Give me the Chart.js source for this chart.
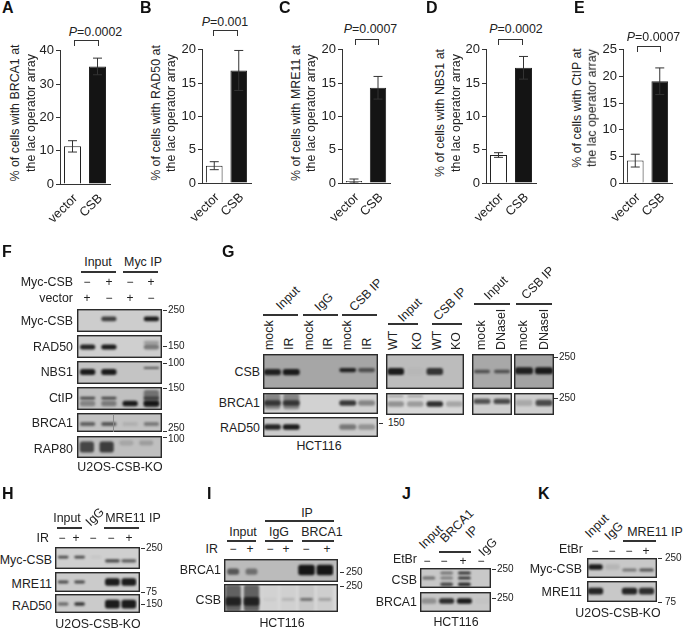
<!DOCTYPE html>
<html>
<head>
<meta charset="utf-8">
<title>CSB figure</title>
<script src="https://cdn.jsdelivr.net/npm/chart.js@4"></script>
<style>
    html, body { margin: 0; padding: 0; background: #fff; }
    #page { position: relative; width: 684px; height: 629px; overflow: hidden; font-family: "Liberation Sans", sans-serif; color: #222; }
    #page canvas { position: absolute; }
    .txt { position: absolute; white-space: pre; line-height: 1; }
    .rule { position: absolute; background: #333; }
    .bracket { position: absolute; border: 1px solid #333; border-bottom: none; box-sizing: border-box; }
</style>
</head>
<body>
<div id="page"></div>
<script>
/* -------------------- bar panel data -------------------- */
const barCategories = ['vector', 'CSB'];

const aValues = [11.3, 35.3];
const aErrors = [1.7, 2.5];
const aTicks = [0, 10, 20, 30, 40];

const bValues = [2.6, 16.9];
const bErrors = [0.6, 3.0];
const bTicks = [0, 5, 10, 15, 20];

const cValues = [0.3, 14.3];
const cErrors = [0.3, 1.7];
const cTicks = [0, 5, 10, 15, 20];

const dValues = [4.2, 17.3];
const dErrors = [0.35, 1.7];
const dTicks = [0, 5, 10, 15, 20];

const eValues = [4.2, 19.1];
const eErrors = [1.2, 2.5];
const eTicks = [0, 5, 10, 15, 20, 25];

/* -------------------- blot band strengths, one number per lane -------------------- */
const fMycCsb = [0, 0.75, 0, 0.95];
const fRad50 = [0.9, 0.95, 0, 0.45];
const fRad50Upper = [0, 0, 0, 0.25];
const fNbs1 = [0.95, 0.95, 0, 0];
const fNbs1Upper = [0, 0, 0, 0.7];
const fCtipUpper = [0.7, 0.7, 0, 0.6];
const fCtipLower = [0.35, 0.4, 0.95, 0.95];
const fCtipSmear = [0, 0, 0, 0.45];
const fBrca1 = [0.55, 0.6, 0.1, 0.4];
const fRap80 = [0.7, 0.75, 0, 0];
const fRap80Faint = [0, 0, 0.15, 0.2];

const gCsb = [0.9, 0.95, 0, 0, 0, 0];
const gCsbIp = [0, 0, 0, 0, 0.9, 0.6];
const gBrca1Smear = [0.4, 0.4, 0, 0, 0, 0];
const gBrca1 = [0.7, 0.7, 0, 0, 0.8, 0.4];
const gRad50 = [0.9, 0.95, 0, 0, 0.45, 0.3];
const gKoCsb = [0.95, 0.03, 0.8, 0];
const gKoBrca1 = [0.35, 0.3, 0.85, 0.25];
const gKoBrca1Upper = [0.25, 0.25, 0, 0];
const gDnInputCsb = [0.6, 0.6];
const gDnInputBrca1 = [0.65, 0.7];
const gDnIpCsb = [0.9, 0.95];
const gDnIpBrca1 = [0.2, 0.7];

const hMycCsbInput = [0.7, 0.7, 0.05, 0, 0];
const hMycCsbIp = [0, 0, 0, 0.7, 0.6];
const hMre11Input = [0.7, 0.7, 0, 0, 0];
const hMre11Ip = [0, 0, 0, 0.95, 0.95];
const hRad50Input = [0.5, 0.8, 0, 0, 0];
const hRad50Ip = [0, 0, 0, 0.95, 0.95];

const iBrca1Input = [0.6, 0.45, 0, 0, 0, 0];
const iBrca1Ip = [0, 0, 0, 0, 0.98, 0.98];
const iCsbSmear = [0.6, 0.6, 0.03, 0.04, 0.08, 0.05];
const iCsbDark = [0.8, 0.8, 0, 0, 0, 0];
const iCsbFaint = [0, 0, 0.04, 0.15, 0.5, 0.25];

const jCsbTop = [0, 0.45, 0.8, 0];
const jCsbMid = [0.5, 0.4, 0.8, 0];
const jCsbLow = [0, 0.7, 0.85, 0];
const jBrca1 = [0.3, 0.85, 0.95, 0.02];

const kMycCsbInput = [0.95, 0.1, 0, 0];
const kMycCsbIp = [0, 0, 0.45, 0.65];
const kMre11 = [0.9, 0, 0.9, 0.85];

const fLanes = ['Input -', 'Input +', 'IP -', 'IP +'];
const gLanes = ['Input mock', 'Input IR', 'IgG mock', 'IgG IR', 'IP mock', 'IP IR'];
const gKoLanes = ['Input WT', 'Input KO', 'IP WT', 'IP KO'];
const gDnLanes = ['mock', 'DNaseI'];
const hLanes = ['Input -', 'Input +', 'IgG -', 'IP -', 'IP +'];
const iLanes = ['Input -', 'Input +', 'IgG -', 'IgG +', 'BRCA1 -', 'BRCA1 +'];
const jLanes = ['Input', 'IP -', 'IP +', 'IgG'];
const kLanes = ['Input', 'IgG', 'IP -', 'IP +'];

/* -------------------- helpers -------------------- */
const page = document.getElementById('page');
const INK = '#222';
const FONT = '"Liberation Sans", sans-serif';

function label(text, x, y, opts = {}) {
    const { size = 12.4, anchor = 'center', rot = 0, bold = false } = opts;
    const el = document.createElement('div');
    el.className = 'txt';
    el.textContent = text;
    el.style.left = x + 'px';
    el.style.top = y + 'px';
    el.style.fontSize = size + 'px';
    if (bold) { el.style.fontWeight = 'bold'; el.style.color = '#111'; }
    const shift = anchor === 'left' ? '0' : anchor === 'right' ? '-100%' : '-50%';
    el.style.transformOrigin = '0 0';
    el.style.transform = `rotate(${rot}deg) translate(${shift}, -50%)`;
    page.appendChild(el);
    return el;
}

function italicP(pvalue, x, y) {
    const el = label('', x, y);
    const p = document.createElement('i');
    p.textContent = 'P';
    el.appendChild(p);
    el.appendChild(document.createTextNode('=' + pvalue));
}

function rule(x1, x2, y, thick = 1.2) {
    const el = document.createElement('div');
    el.className = 'rule';
    el.style.left = x1 + 'px';
    el.style.top = (y - thick / 2) + 'px';
    el.style.width = (x2 - x1) + 'px';
    el.style.height = thick + 'px';
    page.appendChild(el);
    return el;
}

function bracket(x1, x2, y1, y2) {
    const el = document.createElement('div');
    el.className = 'bracket';
    el.style.left = x1 + 'px';
    el.style.top = y1 + 'px';
    el.style.width = (x2 - x1) + 'px';
    el.style.height = (y2 - y1) + 'px';
    page.appendChild(el);
}

function marker(text, x, tickX, y, tickY = y) {
    rule(tickX, tickX + 4, tickY, 1);
    label(text, x, y, { size: 10, anchor: 'left' });
}

function marks(symbols, xs, y) {
    symbols.forEach((s, i) => label(s, xs[i], y, { size: 12 }));
}

function newCanvas(left, top, width, height) {
    const canvas = document.createElement('canvas');
    canvas.width = width;
    canvas.height = height;
    canvas.style.left = left + 'px';
    canvas.style.top = top + 'px';
    canvas.style.width = width + 'px';
    canvas.style.height = height + 'px';
    page.appendChild(canvas);
    return canvas;
}

/* -------------------- bar panels (A-E) -------------------- */
const errorBarPlugin = {
    id: 'errorBars',
    afterDatasetsDraw(chart, args, opts) {
        const { ctx, scales } = chart;
        const bars = chart.getDatasetMeta(0).data;
        ctx.save();
        ctx.strokeStyle = '#333';
        ctx.lineWidth = 1;
        bars.forEach((bar, i) => {
            const v = chart.data.datasets[0].data[i];
            const top = scales.y.getPixelForValue(v + opts.values[i]);
            const low = scales.y.getPixelForValue(v - opts.values[i]);
            ctx.beginPath();
            ctx.moveTo(bar.x, top); ctx.lineTo(bar.x, low);
            ctx.moveTo(bar.x - 4.5, top); ctx.lineTo(bar.x + 4.5, top);
            ctx.moveTo(bar.x - 4.5, low); ctx.lineTo(bar.x + 4.5, low);
            ctx.stroke();
        });
        ctx.restore();
    }
};

function barPanel(axisX, axisTop, width, values, errors, ticks) {
    const gutter = 36, padTop = 8, plotH = 135, bottom = 42;
    const canvas = newCanvas(axisX - gutter, axisTop - padTop, gutter + width + 6, padTop + plotH + bottom);
    new Chart(canvas, {
        type: 'bar',
        data: {
            labels: barCategories,
            datasets: [{
                data: values,
                backgroundColor: ['#ffffff', '#141414'],
                borderColor: '#222',
                borderWidth: 1,
                barPercentage: 0.68,
                categoryPercentage: 1
            }]
        },
        options: {
            responsive: false,
            animation: false,
            layout: { padding: { top: padTop, right: 6, left: 0, bottom: 0 } },
            scales: {
                x: {
                    afterFit: s => { s.height = bottom; },
                    grid: { display: false },
                    border: { color: '#333', width: 1 },
                    ticks: { color: INK, font: { family: FONT, size: 12.8 }, minRotation: 45, maxRotation: 45, padding: -1, labelOffset: 3, autoSkip: false }
                },
                y: {
                    min: 0,
                    max: ticks[ticks.length - 1],
                    afterFit: s => { s.width = gutter; },
                    afterBuildTicks: s => { s.ticks = ticks.map(value => ({ value })); },
                    grid: { drawOnChartArea: false, color: '#333', tickLength: 4 },
                    border: { color: '#333', width: 1 },
                    ticks: { color: INK, font: { family: FONT, size: 13 }, padding: 2 }
                }
            },
            plugins: {
                legend: { display: false },
                tooltip: { enabled: false },
                errorBars: { values: errors }
            }
        },
        plugins: [errorBarPlugin]
    });
}

barPanel(60, 49, 50, aValues, aErrors, aTicks);
barPanel(202, 48, 49, bValues, bErrors, bTicks);
barPanel(342, 48, 48, cValues, cErrors, cTicks);
barPanel(486, 48, 50, dValues, dErrors, dTicks);
barPanel(623, 48, 49, eValues, eErrors, eTicks);

// y titles
[['BRCA1', 15, 31, 113], ['RAD50', 156, 171, 113], ['MRE11', 296, 311, 113], ['NBS1', 440, 456, 113], ['CtIP', 577, 592, 108]].forEach(t => {
    label(`% of cells with ${t[0]} at`, t[1], t[3], { rot: -90 });
    label('the lac operator array', t[2], t[3], { rot: -90 });
});

italicP('0.0002', 95.5, 32); bracket(74, 99, 40, 46);
italicP('0.001', 225, 22); bracket(213, 238, 30, 36);
italicP('0.0007', 370.5, 29); bracket(355, 379, 39, 45);
italicP('0.0002', 516, 29); bracket(498, 523, 39, 45);
italicP('0.0007', 653.5, 37); bracket(637, 661, 46, 52);

/* -------------------- blot strips -------------------- */
const bandPlugin = {
    id: 'bandStyle',
    beforeDraw(chart, args, opts) {
        const { ctx, width, height } = chart;
        ctx.save();
        ctx.fillStyle = opts.background;
        ctx.fillRect(0, 0, width, height);
        ctx.restore();
    },
    beforeDatasetsDraw(chart) {
        chart.ctx.save();
        chart.ctx.filter = 'blur(1.1px)';
    },
    afterDatasetsDraw(chart) {
        chart.ctx.restore();
    },
    afterDraw(chart) {
        const { ctx, width, height } = chart;
        ctx.save();
        ctx.strokeStyle = '#2a2a2a';
        ctx.lineWidth = 1.4;
        ctx.strokeRect(0.7, 0.7, width - 1.4, height - 1.4);
        ctx.restore();
    }
};

function strip(x, y, w, h, background, lanes, rows, padRight = 0) {
    const canvas = newCanvas(x, y, w, h);
    new Chart(canvas, {
        type: 'bar',
        data: {
            labels: lanes,
            datasets: rows.map(r => ({
                data: r.values.map(v => v > 0 ? [r.at - r.thick / 2, r.at + r.thick / 2] : null),
                backgroundColor: r.values.map(v => `rgba(18,18,18,${v})`),
                borderRadius: 2.5,
                borderSkipped: false,
                borderWidth: 0,
                grouped: false,
                barPercentage: r.span || 0.72,
                categoryPercentage: 1
            }))
        },
        options: {
            responsive: false,
            animation: false,
            layout: { padding: { right: padRight } },
            scales: {
                x: { display: false },
                y: { display: false, min: 0, max: 1, reverse: true }
            },
            plugins: {
                legend: { display: false },
                tooltip: { enabled: false },
                bandStyle: { background }
            }
        },
        plugins: [bandPlugin]
    });
}

/* -------------------- F -------------------- */
strip(77, 309, 85, 23, '#cdcdcd', fLanes, [{ at: 0.43, thick: 0.2, values: fMycCsb }]);
strip(77, 335, 85, 23, '#cfcfcf', fLanes, [{ at: 0.33, thick: 0.16, values: fRad50Upper }, { at: 0.52, thick: 0.22, values: fRad50 }]);
strip(77, 361, 85, 23, '#c4c4c4', fLanes, [{ at: 0.48, thick: 0.26, values: fNbs1 }, { at: 0.3, thick: 0.08, values: fNbs1Upper }]);
strip(77, 387, 85, 23, '#c0c0c0', fLanes, [{ at: 0.5, thick: 0.75, values: fCtipSmear }, { at: 0.48, thick: 0.12, values: fCtipUpper }, { at: 0.72, thick: 0.24, values: fCtipLower }]);
strip(77, 413, 85, 19, '#c2c2c2', fLanes, [{ at: 0.58, thick: 0.2, values: fBrca1 }]);
rule(112.6, 113.6, 422.5, 18).style.background = '#8a8a8a';
strip(77, 436, 85, 22, '#bfbfbf', fLanes, [{ at: 0.5, thick: 0.5, values: fRap80 }, { at: 0.32, thick: 0.22, values: fRap80Faint }], 6);

label('Input', 98, 262); rule(81, 116, 272);
label('Myc IP', 143, 262); rule(123, 158, 272);
label('Myc-CSB', 73, 282, { anchor: 'right' });
label('vector', 73, 298, { anchor: 'right' });
const fMarkX = [87, 109, 130, 151];
marks(['−', '+', '−', '+'], fMarkX, 282);
marks(['+', '−', '+', '−'], fMarkX, 298);
[['Myc-CSB', 321], ['RAD50', 347], ['NBS1', 372], ['CtIP', 398], ['BRCA1', 423], ['RAP80', 449]].forEach(r => label(r[0], 73, r[1], { anchor: 'right' }));
marker('250', 168, 163, 310);
marker('150', 168, 163, 346);
marker('100', 168, 163, 363);
marker('150', 168, 163, 388);
marker('250', 168, 163, 428, 431);
marker('100', 168, 163, 439, 437);
label('U2OS-CSB-KO', 120, 467);

/* -------------------- G -------------------- */
strip(263, 354, 115, 35, '#a6a6a6', gLanes, [{ at: 0.52, thick: 0.18, values: gCsb, span: 0.9 }, { at: 0.46, thick: 0.12, values: gCsbIp, span: 0.9 }], 2);
strip(263, 393, 115, 21, '#d2d2d2', gLanes, [{ at: 0.4, thick: 0.75, values: gBrca1Smear, span: 0.85 }, { at: 0.48, thick: 0.26, values: gBrca1, span: 0.9 }], 2);
strip(263, 417, 115, 20, '#cccccc', gLanes, [{ at: 0.5, thick: 0.28, values: gRad50, span: 0.9 }], 2);
strip(386, 354, 78, 35, '#bcbcbc', gKoLanes, [{ at: 0.5, thick: 0.2, values: gKoCsb, span: 0.85 }]);
strip(386, 393, 78, 22, '#d8d8d8', gKoLanes, [{ at: 0.15, thick: 0.12, values: gKoBrca1Upper, span: 0.8 }, { at: 0.5, thick: 0.24, values: gKoBrca1, span: 0.85 }]);
strip(472, 354, 40, 35, '#a8a8a8', gDnLanes, [{ at: 0.5, thick: 0.1, values: gDnInputCsb, span: 0.8 }]);
strip(472, 393, 40, 22, '#cfcfcf', gDnLanes, [{ at: 0.38, thick: 0.24, values: gDnInputBrca1, span: 0.85 }]);
strip(514, 354, 40, 35, '#a3a3a3', gDnLanes, [{ at: 0.48, thick: 0.2, values: gDnIpCsb, span: 0.9 }]);
strip(514, 393, 40, 22, '#cfcfcf', gDnLanes, [{ at: 0.45, thick: 0.28, values: gDnIpBrca1, span: 0.85 }]);

const tilt = { rot: -45 };
label('Input', 288, 298, tilt); label('IgG', 324, 302, tilt); label('CSB IP', 366, 295, tilt);
label('Input', 410, 310, tilt); label('CSB IP', 450, 304, tilt);
label('Input', 496, 288, tilt); label('CSB IP', 538, 283, tilt);
rule(263, 298, 315, 1.5); rule(303, 338, 315, 1.5); rule(342, 377, 315, 1.5);
rule(388, 418, 324); rule(432, 462, 324);
rule(474, 510, 304, 1.5); rule(516, 552, 304, 1.5);
[['mock', 269], ['IR', 289], ['mock', 309], ['IR', 328], ['mock', 347], ['IR', 367],
 ['WT', 393], ['KO', 417], ['WT', 437], ['KO', 456],
 ['mock', 481], ['DNaseI', 501], ['mock', 523], ['DNaseI', 544]].forEach(l => label(l[0], l[1], 350, { rot: -90, anchor: 'left' }));
[['CSB', 372], ['BRCA1', 403], ['RAD50', 428]].forEach(r => label(r[0], 260, r[1], { anchor: 'right' }));
marker('150', 388, 379, 423);
marker('250', 559, 554, 357);
marker('250', 559, 554, 398);
label('HCT116', 319, 446);

/* -------------------- H -------------------- */
const hStrip = (y, h, bg, rows) => strip(55, y, 85, h, bg, hLanes, rows, 3);
hStrip(547, 22, '#cfcfcf', [{ at: 0.46, thick: 0.12, values: hMycCsbInput, span: 0.65 }, { at: 0.63, thick: 0.14, values: hMycCsbIp, span: 0.9 }]);
hStrip(572, 20, '#cbcbcb', [{ at: 0.5, thick: 0.14, values: hMre11Input, span: 0.65 }, { at: 0.5, thick: 0.38, values: hMre11Ip, span: 0.9 }]);
hStrip(594, 19, '#cbcbcb', [{ at: 0.53, thick: 0.18, values: hRad50Input, span: 0.65 }, { at: 0.53, thick: 0.46, values: hRad50Ip, span: 0.9 }]);
label('Input', 67, 518); rule(57, 82, 528);
label('IgG', 95, 517, tilt);
label('MRE11 IP', 133, 518); rule(104, 139, 528);
label('IR', 49, 538, { anchor: 'right' });
marks(['−', '+', '−', '−', '+'], [62, 76, 93, 111, 129], 538);
[['Myc-CSB', 560], ['MRE11', 584], ['RAD50', 606]].forEach(r => label(r[0], 52, r[1], { anchor: 'right' }));
marker('250', 146, 141, 548);
marker('75', 146, 141, 592);
marker('150', 146, 141, 604);
label('U2OS-CSB-KO', 98, 624);

/* -------------------- I -------------------- */
strip(224, 559, 114, 23, '#bbbbbb', iLanes, [{ at: 0.55, thick: 0.28, values: iBrca1Input, span: 0.65 }, { at: 0.48, thick: 0.46, values: iBrca1Ip, span: 0.9 }], 4);
strip(224, 584, 114, 28, '#d8d8d8', iLanes, [{ at: 0.5, thick: 0.95, values: iCsbSmear, span: 0.85 }, { at: 0.62, thick: 0.32, values: iCsbDark, span: 0.85 }, { at: 0.55, thick: 0.1, values: iCsbFaint, span: 0.7 }], 4);
label('IP', 307, 513); rule(265, 334, 521);
label('Input', 243, 532); rule(227, 256, 541);
label('IgG', 279, 532); rule(265, 293, 541);
label('BRCA1', 322, 532); rule(302, 334, 541);
label('IR', 218, 549, { anchor: 'right' });
marks(['−', '+', '−', '+', '−', '+'], [233, 250, 270, 286, 306, 327], 549);
label('BRCA1', 221, 570, { anchor: 'right' });
label('CSB', 221, 600, { anchor: 'right' });
marker('250', 346, 340, 572);
marker('250', 346, 340, 586);
label('HCT116', 282, 623);

/* -------------------- J -------------------- */
strip(420, 568, 71, 20, '#c8c8c8', jLanes, [{ at: 0.25, thick: 0.16, values: jCsbTop }, { at: 0.5, thick: 0.16, values: jCsbMid }, { at: 0.82, thick: 0.18, values: jCsbLow }]);
strip(420, 592, 71, 20, '#c8c8c8', jLanes, [{ at: 0.45, thick: 0.28, values: jBrca1, span: 0.85 }]);
label('Input', 431, 537, tilt); label('BRCA1', 457, 526, tilt); label('IP', 472, 532, tilt); label('IgG', 488, 547, tilt);
rule(439, 471, 552);
label('EtBr', 417, 559, { anchor: 'right' });
marks(['−', '−', '+', '−'], [427, 444, 463, 481], 561);
label('CSB', 417, 580, { anchor: 'right' });
label('BRCA1', 417, 602, { anchor: 'right' });
marker('250', 497, 492, 569);
marker('250', 497, 492, 598);
label('HCT116', 456, 622);

/* -------------------- K -------------------- */
strip(587, 558, 70, 20, '#c8c8c8', kLanes, [{ at: 0.45, thick: 0.28, values: kMycCsbInput, span: 0.85 }, { at: 0.6, thick: 0.16, values: kMycCsbIp, span: 0.85 }], 2);
strip(587, 581, 70, 21, '#c8c8c8', kLanes, [{ at: 0.48, thick: 0.32, values: kMre11, span: 0.9 }], 2);
label('Input', 597, 526, tilt); label('IgG', 614, 531, tilt);
label('MRE11 IP', 655, 532); rule(623, 656, 541);
label('EtBr', 583, 549, { anchor: 'right' });
marks(['−', '−', '−', '+'], [595, 612, 629, 646], 551);
label('Myc-CSB', 582, 569, { anchor: 'right' });
label('MRE11', 582, 592, { anchor: 'right' });
marker('250', 665, 658, 558);
marker('75', 665, 658, 602);
label('U2OS-CSB-KO', 618, 613);

/* -------------------- panel letters -------------------- */
[['A', 2, 8], ['B', 140, 8], ['C', 279, 8], ['D', 426, 8], ['E', 574, 8],
 ['F', 2, 252], ['G', 222, 252], ['H', 2, 494], ['I', 207, 494], ['J', 402, 494], ['K', 538, 494]]
    .forEach(p => label(p[0], p[1], p[2], { size: 16, anchor: 'left', bold: true }));
</script>
</body>
</html>
